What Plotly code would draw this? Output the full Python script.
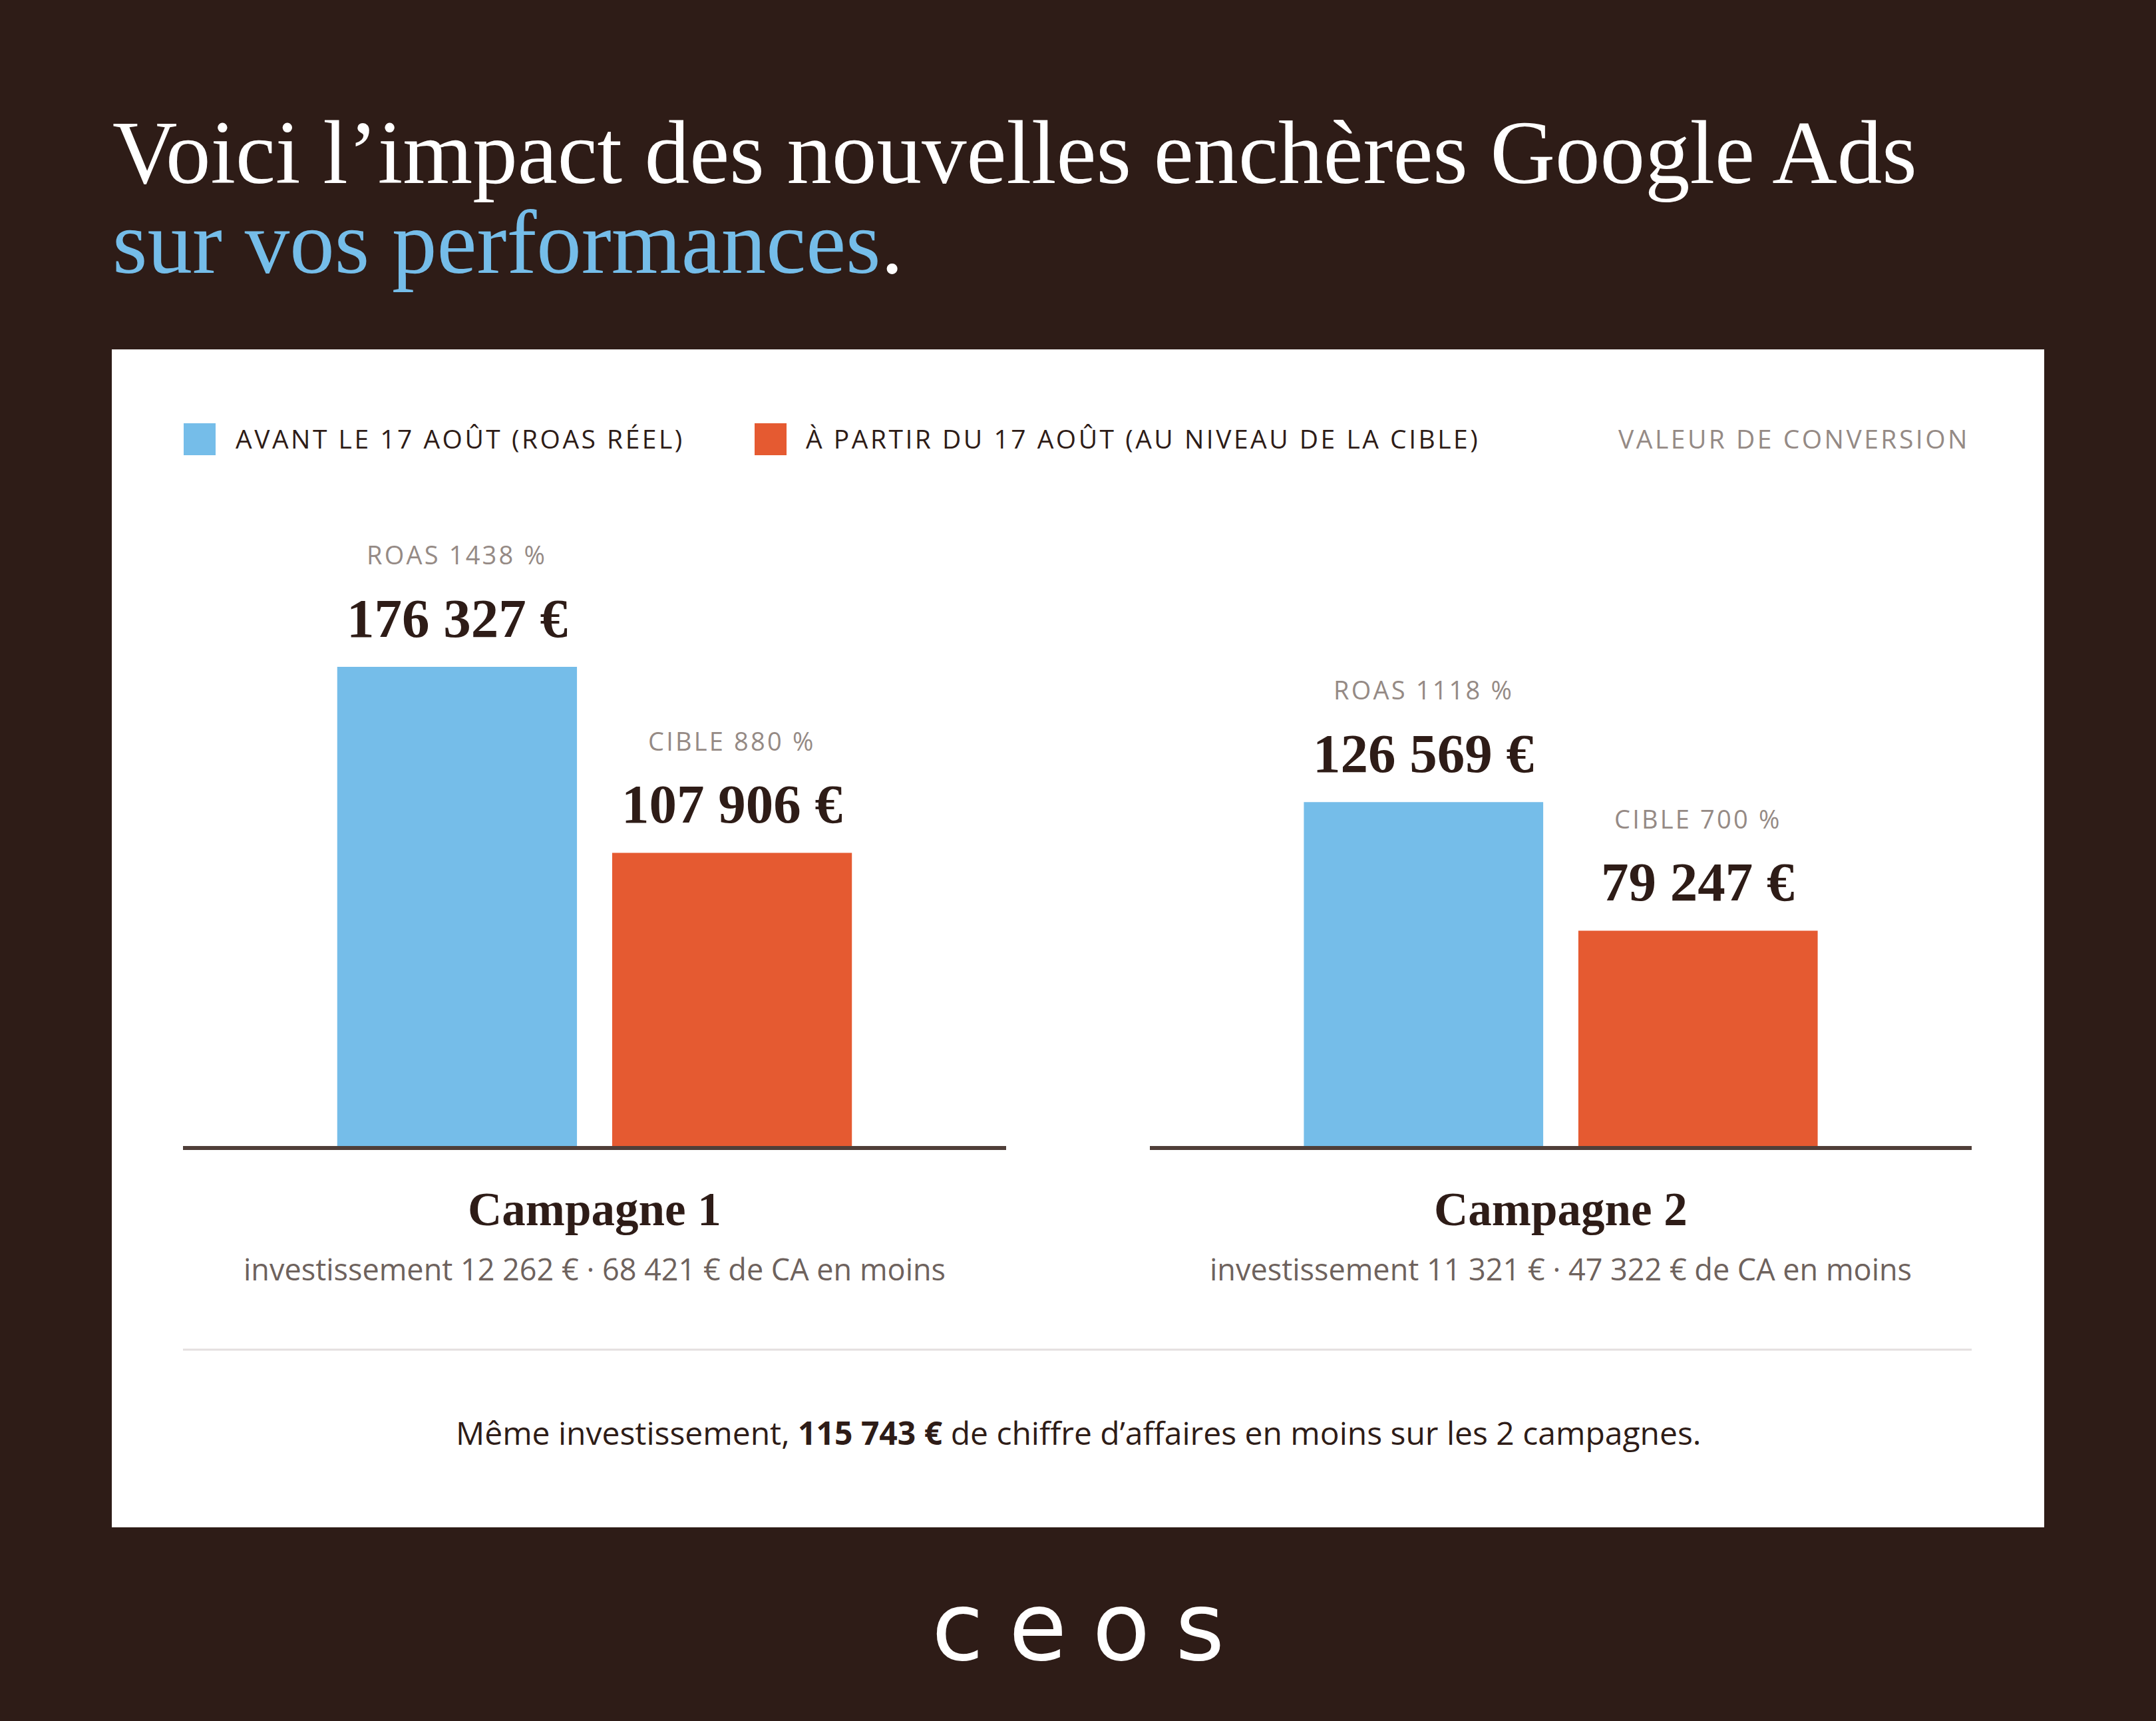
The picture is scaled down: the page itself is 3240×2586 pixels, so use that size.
import plotly.graph_objects as go

W, H = 3240, 2586

# data
campagnes = ["Campagne 1", "Campagne 2"]
series = ["AVANT LE 17 AOÛT (ROAS RÉEL)", "À PARTIR DU 17 AOÛT (AU NIVEAU DE LA CIBLE)"]
valeur_avant = [176327, 126569]
valeur_apres = [107906, 79247]
roas_reel = [1438, 1118]
roas_cible = [880, 700]
investissement = [12262, 11321]
ca_en_moins = [68421, 47322]
total_en_moins = 115743

BG = "#2e1c17"
BLUE = "#75bde9"
ORANGE = "#e55a31"
INK = "#2e1c17"
GREY = "#958a85"
SUB = "#6e625d"
AXIS = "#4f3f39"

SERIF = "Liberation Serif"
SANS = "Open Sans"


def px_x(p):
    return p / W


def px_y(p):
    return 1 - p / H


def euros(v):
    return f"{v:,}".replace(",", " ") + " €"


def spaced(txt, ls=3.5):
    return f"<span style='letter-spacing:{ls}px'>{txt}</span>"


# plot geometry (pixels)
baseline = 1722
px_per_unit = 0.004083
y_max = 200000
axis_dom = [(275, 1512), (1728, 2963)]
bargap, bargroupgap = 0.332, 0.128

fig = go.Figure()
axes = [("x", "y"), ("x2", "y")]
for i, (xa, ya) in enumerate(axes):
    fig.add_trace(go.Bar(x=[campagnes[i]], y=[valeur_avant[i]], xaxis=xa, yaxis=ya,
                         marker=dict(color=BLUE, line=dict(width=0)), name=series[0],
                         showlegend=False, hoverinfo="skip"))
    fig.add_trace(go.Bar(x=[campagnes[i]], y=[valeur_apres[i]], xaxis=xa, yaxis=ya,
                         marker=dict(color=ORANGE, line=dict(width=0)), name=series[1],
                         showlegend=False, hoverinfo="skip"))

annotations = []

# title
TS = 135
annotations.append(dict(
    text="Voici l’impact des nouvelles enchères Google Ads",
    x=px_x(167), y=px_y(276 + 0.216 * TS + 1), xanchor="left", yanchor="bottom",
    font=dict(family=SERIF, size=TS, color="white"),
))
annotations.append(dict(
    text=f"<span style='color:{BLUE}'>sur vos performances</span>.",
    x=px_x(167), y=px_y(411 + 0.216 * TS + 1), xanchor="left", yanchor="bottom",
    font=dict(family=SERIF, size=TS, color="white"),
))

# legend
legend_keys = [(276, BLUE, 352), (1134, ORANGE, 1209)]
for name, (kx, col, tx) in zip(series, legend_keys):
    annotations.append(dict(
        text=spaced(name), x=px_x(tx), y=px_y(675 + 0.293 * 39 + 1),
        xanchor="left", yanchor="bottom",
        font=dict(family=SANS, size=39, color=INK),
    ))
annotations.append(dict(
    text=spaced("VALEUR DE CONVERSION"), x=px_x(2962), y=px_y(675 + 0.293 * 39 + 1),
    xanchor="right", yanchor="bottom",
    font=dict(family=SANS, size=39, color=GREY),
))

# labels above bars
for i, (xa, _) in enumerate(axes):
    a0, a1 = axis_dom[i]
    shift = (1 - bargap) * (a1 - a0) / 4
    for sgn, val, lab in [(-1, valeur_avant[i], f"ROAS {roas_reel[i]} %"),
                          (1, valeur_apres[i], f"CIBLE {roas_cible[i]} %")]:
        annotations.append(dict(
            text=euros(val), x=campagnes[i], xref=xa, y=val, yref="y",
            xshift=sgn * shift, yshift=44 - 0.216 * 83 - 1,
            xanchor="center", yanchor="bottom", showarrow=False,
            font=dict(family=SERIF, size=83, color=INK, weight="bold"),
        ))
        annotations.append(dict(
            text=spaced(lab, 3.2), x=campagnes[i], xref=xa, y=val, yref="y",
            xshift=sgn * shift, yshift=153 - 0.293 * 38 - 1,
            xanchor="center", yanchor="bottom", showarrow=False,
            font=dict(family=SANS, size=38, color=GREY),
        ))
    # campaign name and subtitle
    annotations.append(dict(
        text=campagnes[i], x=campagnes[i], xref=xa, y=px_y(1842 + 0.216 * 71 + 1), yref="paper",
        xanchor="center", yanchor="bottom", showarrow=False,
        font=dict(family=SERIF, size=71, color=INK, weight="bold"),
    ))
    annotations.append(dict(
        text=f"investissement {euros(investissement[i])} · {euros(ca_en_moins[i])} de CA en moins",
        x=campagnes[i], xref=xa, y=px_y(1925 + 0.293 * 45 + 1), yref="paper",
        xanchor="center", yanchor="bottom", showarrow=False,
        font=dict(family=SANS, size=45, color=SUB),
    ))

# footer sentence
annotations.append(dict(
    text=f"Même investissement, <b>{euros(total_en_moins)}</b> de chiffre d’affaires en moins sur les 2 campagnes.",
    x=px_x(1620), y=px_y(2172 + 0.293 * 48 + 1), xanchor="center", yanchor="bottom",
    font=dict(family=SANS, size=48, color=INK),
))

# logo wordmark
annotations.append(dict(
    text=spaced("ceos", 38), x=px_x(1639), y=px_y(2494 + 0.236 * 142 + 1),
    xanchor="center", yanchor="bottom",
    font=dict(family="DejaVu Sans", size=142, color="white"),
))

for a in annotations:
    a.setdefault("xref", "paper")
    a.setdefault("yref", "paper")
    a.setdefault("showarrow", False)

shapes = [
    # white card
    dict(type="rect", xref="paper", yref="paper", x0=px_x(168), x1=px_x(3072),
         y0=px_y(2295), y1=px_y(525), fillcolor="white", line=dict(width=0), layer="below"),
    # divider
    dict(type="line", xref="paper", yref="paper", x0=px_x(275), x1=px_x(2963),
         y0=px_y(2028), y1=px_y(2028), line=dict(color="#e4dfdf", width=3), layer="below"),
]
for kx, col, _ in legend_keys:
    shapes.append(dict(type="rect", xref="paper", yref="paper", x0=px_x(kx), x1=px_x(kx + 48),
                       y0=px_y(684), y1=px_y(636), fillcolor=col, line=dict(width=0)))

dom_y = [px_y(baseline), px_y(baseline - y_max * px_per_unit)]
xcommon = dict(type="category", range=[-0.5, 0.5], showline=True, linecolor=AXIS, linewidth=6,
               showticklabels=False, showgrid=False, zeroline=False, ticks="", fixedrange=True)

fig.update_layout(
    width=W, height=H,
    margin=dict(l=0, r=0, t=0, b=0),
    paper_bgcolor=BG,
    plot_bgcolor="rgba(0,0,0,0)",
    barmode="group", bargap=bargap, bargroupgap=bargroupgap,
    xaxis=dict(domain=[px_x(axis_dom[0][0]), px_x(axis_dom[0][1])], anchor="y", **xcommon),
    xaxis2=dict(domain=[px_x(axis_dom[1][0]), px_x(axis_dom[1][1])], anchor="y", **xcommon),
    yaxis=dict(domain=dom_y, range=[0, y_max], visible=False, fixedrange=True),
    annotations=annotations,
    shapes=shapes,
    showlegend=False,
)

# the page body has a default 8px margin; drop it so the figure fills the window
fig.write_html("out.html", config={"displayModeBar": False},
               post_script="document.body.style.margin='0';")
